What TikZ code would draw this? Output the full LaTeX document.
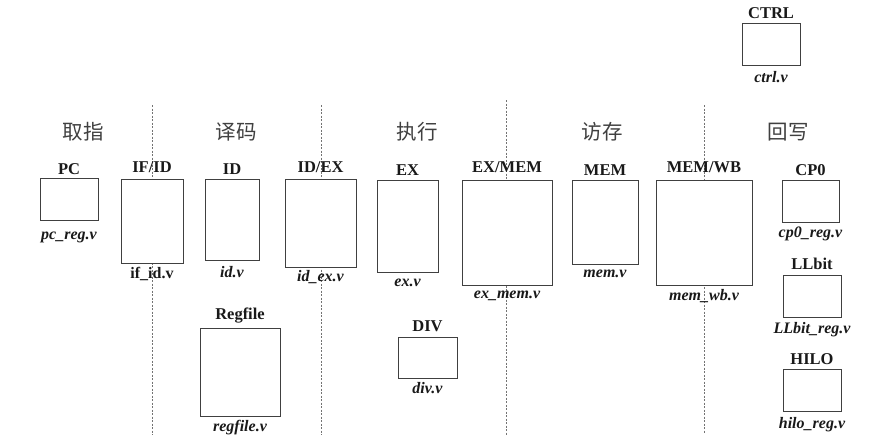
\documentclass[tikz,border=0pt]{standalone}
\usepackage{fontspec}
\setmainfont{Liberation Serif}
\newfontfamily\cjk{Noto Sans CJK SC}
\begin{document}
\begin{tikzpicture}[x=1pt,y=-1pt,
  box/.style={draw=black!75, line width=0.8pt, fill=white, inner sep=0pt},
  ttl/.style={font=\fontsize{16.5}{17}\selectfont\bfseries, anchor=base, inner sep=0pt, text=black!90},
  fil/.style={font=\fontsize{16}{17}\selectfont\bfseries\itshape, anchor=base, inner sep=0pt, text=black!90},
  filup/.style={font=\fontsize{16}{17}\selectfont\bfseries, anchor=base, inner sep=0pt, text=black!90},
  stage/.style={font=\cjk\fontsize{20.5}{22}\selectfont, text=black!75, inner sep=0pt},
  sep/.style={draw=black!55, line width=0.6pt, dash pattern=on 2pt off 1.5pt}]
\useasboundingbox (0,0) rectangle (877,444);
\fill[white] (0,0) rectangle (877,444);

% separators
\coordinate (s1t) at (152,105); \coordinate (s1b) at (152,435);
\coordinate (s2t) at (321,105); \coordinate (s2b) at (321,435);
\coordinate (s3t) at (506,100); \coordinate (s3b) at (506,435);
\coordinate (s4t) at (704,105); \coordinate (s4b) at (704,433);
\draw[sep] (s1t) -- (s1b);
\draw[sep] (s2t) -- (s2b);
\draw[sep] (s3t) -- (s3b);
\draw[sep] (s4t) -- (s4b);

% stage names
\node[stage] (st1) at (83,132) {取指};
\node[stage] (st2) at (236,132) {译码};
\node[stage] (st3) at (417,132) {执行};
\node[stage] (st4) at (602,132) {访存};
\node[stage] (st5) at (788,132) {回写};

% boxes
\node[box, minimum width=58pt, minimum height=42pt] (pc) at (69,199) {};
\node[box, minimum width=62pt, minimum height=84pt] (ifid) at (152,221) {};
\node[box, minimum width=54pt, minimum height=81pt] (id) at (232,219.5) {};
\node[box, minimum width=71pt, minimum height=88pt] (idex) at (320.5,223) {};
\node[box, minimum width=61pt, minimum height=92pt] (ex) at (407.5,226) {};
\node[box, minimum width=90pt, minimum height=105pt] (exmem) at (507,232.5) {};
\node[box, minimum width=66pt, minimum height=84pt] (mem) at (605,222) {};
\node[box, minimum width=96pt, minimum height=105pt] (memwb) at (704,232.5) {};
\node[box, minimum width=58pt, minimum height=42pt] (ctrl) at (771,44) {};
\node[box, minimum width=57pt, minimum height=42pt] (cp0) at (810.5,201) {};
\node[box, minimum width=58pt, minimum height=42pt] (llbit) at (812,296) {};
\node[box, minimum width=58pt, minimum height=42pt] (hilo) at (812,390) {};
\node[box, minimum width=80pt, minimum height=88pt] (regfile) at (240,372) {};
\node[box, minimum width=59pt, minimum height=41pt] (div) at (427.5,357.5) {};

% titles
\node[ttl] (pct) at ([yshift=3pt]pc.north) {PC};
\node[ttl] (ifidt) at ([yshift=6pt]ifid.north) {IF/ID};
\node[ttl] (idt) at ([yshift=4pt]id.north) {ID};
\node[ttl] (idext) at ([yshift=6pt]idex.north) {ID/EX};
\node[ttl] (ext) at ([yshift=4pt]ex.north) {EX};
\node[ttl] (exmemt) at ([yshift=7pt]exmem.north) {EX/MEM};
\node[ttl] (memt) at ([yshift=4pt]mem.north) {MEM};
\node[ttl] (memwbt) at ([yshift=7pt]memwb.north) {MEM/WB};
\node[ttl] (ctrlt) at ([yshift=4pt]ctrl.north) {CTRL};
\node[ttl] (cp0t) at ([yshift=4pt]cp0.north) {CP0};
\node[ttl] (llbitt) at ([yshift=5pt]llbit.north) {LLbit};
\node[ttl] (hilot) at ([yshift=4pt]hilo.north) {HILO};
\node[ttl] (regfilet) at ([yshift=8pt]regfile.north) {Regfile};
\node[ttl] (divt) at ([yshift=5pt]div.north) {DIV};

% file names
\node[fil] (pcf) at ([yshift=-19pt]pc.south) {pc\_reg.v};
\node[filup] (ifidf) at ([yshift=-15pt]ifid.south) {if\_id.v};
\node[fil] (idf) at ([yshift=-17pt]id.south) {id.v};
\node[fil] (idexf) at ([yshift=-14pt]idex.south) {id\_ex.v};
\node[fil] (exf) at ([yshift=-14pt]ex.south) {ex.v};
\node[fil] (exmemf) at ([yshift=-13pt]exmem.south) {ex\_mem.v};
\node[fil] (memf) at ([yshift=-13pt]mem.south) {mem.v};
\node[fil] (memwbf) at ([yshift=-15pt]memwb.south) {mem\_wb.v};
\node[fil] (ctrlf) at ([yshift=-17pt]ctrl.south) {ctrl.v};
\node[fil] (cp0f) at ([yshift=-15pt]cp0.south) {cp0\_reg.v};
\node[fil] (llbitf) at ([yshift=-16pt]llbit.south) {LLbit\_reg.v};
\node[fil] (hilof) at ([yshift=-17pt]hilo.south) {hilo\_reg.v};
\node[fil] (regfilef) at ([yshift=-15pt]regfile.south) {regfile.v};
\node[fil] (divf) at ([yshift=-15pt]div.south) {div.v};
\end{tikzpicture}
\end{document}
